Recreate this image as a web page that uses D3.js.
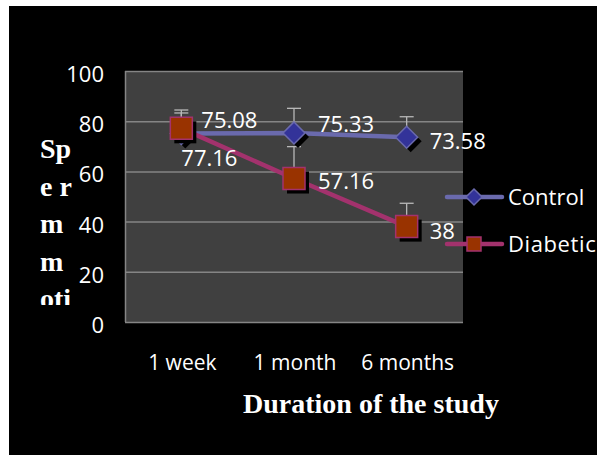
<!DOCTYPE html>
<html>
<head>
<meta charset="utf-8">
<script src="https://cdn.jsdelivr.net/npm/d3@7"></script>
<style>
html,body{margin:0;padding:0;background:#fff;}
svg{display:block;}
</style>
</head>
<body>
<script>
// ---- data ----
const categories = ["1 week", "1 month", "6 months"];
const seriesNames = ["Control", "Diabetic"];
const controlValues = [75.08, 75.33, 73.58];
const diabeticValues = [77.16, 57.16, 38];
const controlErrors = [8.2, 9.8, 8.2];
const diabeticErrors = [7.3, 12.7, 9.3];
const yTicks = [0, 20, 40, 60, 80, 100];
const yTitleLines = ["Sp", "e r", "m", "m", "oti"];
const xTitle = "Duration of the study";

// label placement offsets (layout only)
const controlLabelOffsets = [[20, -6], [24, -1], [23, 12]];
const diabeticLabelOffsets = [[0, 38], [24, 10.5], [23, 12]];

const W = 597, H = 455;
const svg = d3.select("body").append("svg").attr("width", W).attr("height", H);

svg.append("rect").attr("x", 9).attr("y", 6).attr("width", W - 9).attr("height", H - 6).attr("fill", "#000");

const plot = {left: 125, right: 463, top: 71, bottom: 322};
const x = d3.scaleBand().domain(categories).range([plot.left, plot.right]);
const y = d3.scaleLinear().domain([0, 100]).range([plot.bottom, plot.top]);
const cx = c => x(c) + x.bandwidth() / 2;

svg.append("rect").attr("x", plot.left).attr("y", plot.top)
  .attr("width", plot.right - plot.left).attr("height", plot.bottom - plot.top)
  .attr("fill", "#404040");

// gridlines
svg.append("g").selectAll("line").data(yTicks).join("line")
  .attr("x1", plot.left).attr("x2", plot.right)
  .attr("y1", d => y(d) + 0.5).attr("y2", d => y(d) + 0.5)
  .attr("stroke", "#858585").attr("stroke-width", 1.5);
svg.append("line").attr("x1", plot.left + 0.5).attr("x2", plot.left + 0.5)
  .attr("y1", plot.top).attr("y2", plot.bottom).attr("stroke", "#858585").attr("stroke-width", 1.5);

// y tick labels
svg.append("g").selectAll("text").data(yTicks).join("text")
  .attr("x", 104).attr("y", d => y(d) + 11)
  .attr("text-anchor", "end").attr("fill", "#fff")
  .attr("font-family", "Open Sans").attr("font-size", 22)
  .text(d => d);

// category labels
svg.append("g").selectAll("text").data(categories).join("text")
  .attr("x", d => cx(d) + 1).attr("y", 370)
  .attr("text-anchor", "middle").attr("fill", "#fff")
  .attr("font-family", "Open Sans").attr("font-size", 21)
  .text(d => d);

// error bars
function errorBars(vals, errs) {
  const g = svg.append("g").attr("stroke", "#b8b8b8").attr("stroke-width", 1.3);
  categories.forEach((c, i) => {
    const px = cx(c), top = y(vals[i] + errs[i]);
    g.append("line").attr("x1", px).attr("x2", px).attr("y1", y(vals[i])).attr("y2", top);
    g.append("line").attr("x1", px - 7).attr("x2", px + 7).attr("y1", top).attr("y2", top);
  });
}
errorBars(controlValues, controlErrors);
errorBars(diabeticValues, diabeticErrors);

const line = d3.line().x((d, i) => cx(categories[i])).y(d => y(d));

const diamond = s => `M0,${-s}L${s},0L0,${s}L${-s},0Z`;
const square = s => `M${-s},${-s}H${s}V${s}H${-s}Z`;

function series(vals, lineColor, markerPath, fill, stroke) {
  svg.append("path").datum(vals).attr("d", line)
    .attr("fill", "none").attr("stroke", lineColor).attr("stroke-width", 4.5);
  const g = svg.append("g");
  vals.forEach((v, i) => {
    const px = cx(categories[i]), py = y(v);
    g.append("path").attr("d", markerPath).attr("transform", `translate(${px + 4},${py + 4})`).attr("fill", "#000");
    g.append("path").attr("d", markerPath).attr("transform", `translate(${px},${py})`)
      .attr("fill", fill).attr("stroke", stroke).attr("stroke-width", 1.5);
  });
}
series(controlValues, "#6a6aad", diamond(11), "#333399", "#6a6aad");
series(diabeticValues, "#a3326d", square(11), "#993300", "#a3326d");

// data labels
function labels(vals, offs) {
  svg.append("g").selectAll("text").data(vals).join("text")
    .attr("x", (d, i) => cx(categories[i]) + offs[i][0])
    .attr("y", (d, i) => y(d) + offs[i][1])
    .attr("fill", "#fff").attr("font-family", "Open Sans").attr("font-size", 22)
    .text(d => d);
}
labels(controlValues, controlLabelOffsets);
labels(diabeticValues, diabeticLabelOffsets);

// legend
const legend = [
  {name: seriesNames[0], color: "#6a6aad", path: diamond(8), fill: "#333399", y: 197},
  {name: seriesNames[1], color: "#a3326d", path: square(7), fill: "#993300", y: 244}
];
legend.forEach(l => {
  svg.append("line").attr("x1", 447).attr("x2", 502).attr("y1", l.y).attr("y2", l.y)
    .attr("stroke", l.color).attr("stroke-width", 4.5).attr("stroke-linecap", "round");
  svg.append("path").attr("d", l.path).attr("transform", `translate(474,${l.y})`)
    .attr("fill", l.fill).attr("stroke", l.color).attr("stroke-width", 1.5);
  svg.append("text").attr("x", 508).attr("y", l.y + 8)
    .attr("fill", "#fff").attr("font-family", "Open Sans").attr("font-size", 22)
    .attr("letter-spacing", l.name === "Diabetic" ? 0.6 : 0)
    .text(l.name);
});

// axis titles
svg.append("text").attr("x", 243).attr("y", 413)
  .attr("fill", "#fff").attr("font-family", "Liberation Serif").attr("font-weight", "bold")
  .attr("font-size", 28).text(xTitle);

svg.append("clipPath").attr("id", "yclip").append("rect")
  .attr("x", 20).attr("y", 120).attr("width", 80).attr("height", 185);
svg.append("g").attr("clip-path", "url(#yclip)")
  .selectAll("text").data(yTitleLines).join("text")
  .attr("x", 40).attr("y", (d, i) => 158 + i * 37.5)
  .attr("fill", "#fff").attr("font-family", "Liberation Serif").attr("font-weight", "bold")
  .attr("font-size", 28).text(d => d);
</script>
</body>
</html>
